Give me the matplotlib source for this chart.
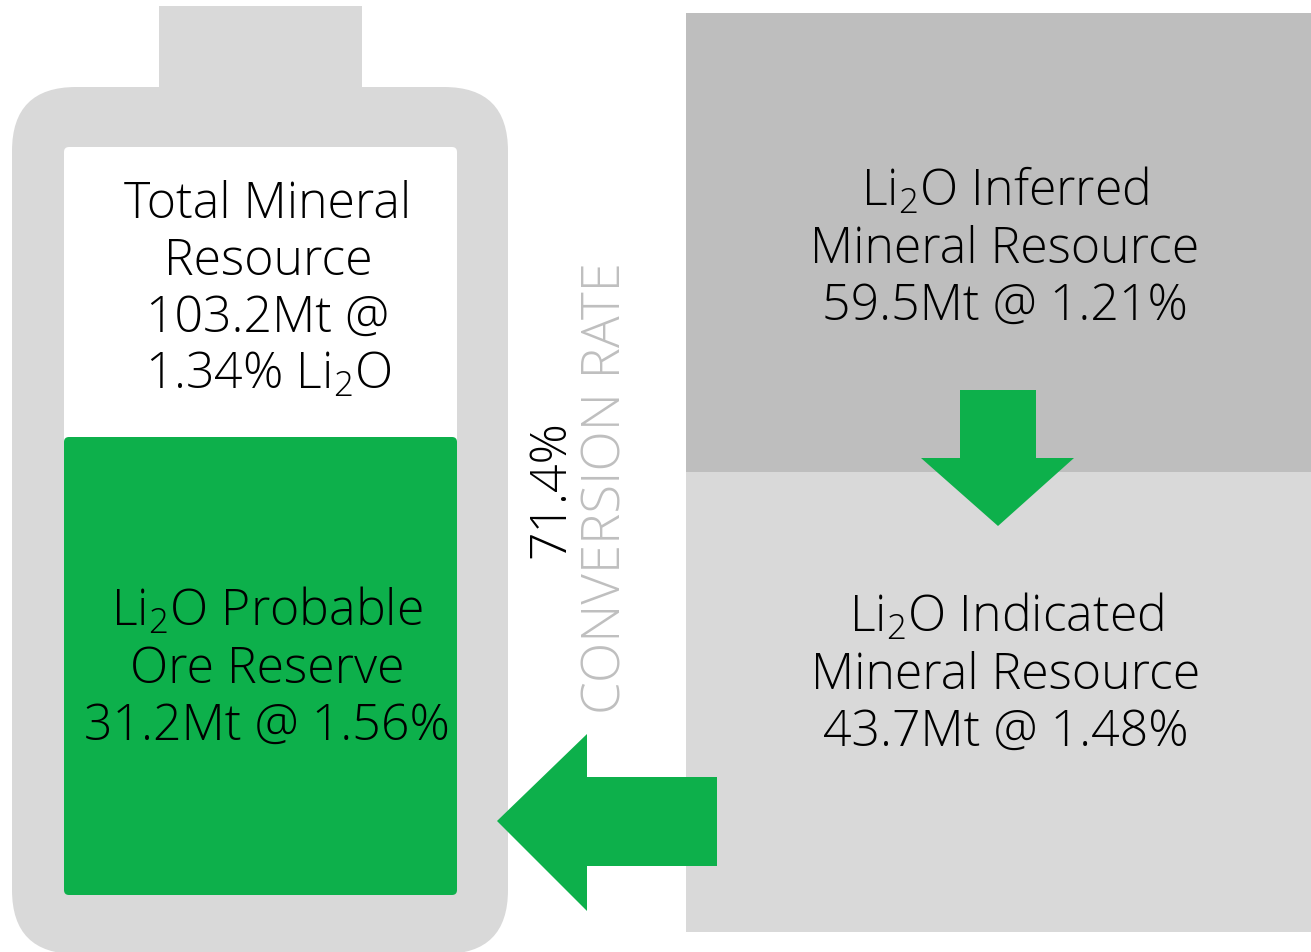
import matplotlib.pyplot as plt
from matplotlib.patches import FancyBboxPatch, Rectangle, Polygon

# resource figures (tonnes in Mt, grade in % Li2O)
total_mt, total_grade = 103.2, 1.34
probable_mt, probable_grade = 31.2, 1.56
inferred_mt, inferred_grade = 59.5, 1.21
indicated_mt, indicated_grade = 43.7, 1.48
conversion_rate = 71.4

GREEN = '#0db04b'
LIGHT = '#d9d9d9'
DARK = '#bebebe'
LI2O = 'Li$_2$O'

plt.rcParams['font.family'] = ['Open Sans', 'DejaVu Sans']
plt.rcParams['font.weight'] = 'light'
plt.rcParams['mathtext.default'] = 'regular'

W, H = 1311, 953
fig = plt.figure(figsize=(W / 100, H / 100), dpi=100)
ax = fig.add_axes([0, 0, 1, 1])
ax.set_xlim(0, W)
ax.set_ylim(H, 0)
ax.axis('off')

# battery shape
ax.add_patch(Rectangle((159, 7), 203, 90, color=LIGHT, lw=0))
ax.add_patch(FancyBboxPatch((12, 88), 496, 867, boxstyle='round,pad=0,rounding_size=64',
                            color=LIGHT, lw=0))
ax.add_patch(FancyBboxPatch((64, 148), 393, 300, boxstyle='round,pad=0,rounding_size=5',
                            color='white', lw=0))
ax.add_patch(FancyBboxPatch((64, 438), 393, 458, boxstyle='round,pad=0,rounding_size=5',
                            color=GREEN, lw=0))

# right hand resource panels
ax.add_patch(Rectangle((686, 14), 625, 459, color=DARK, lw=0))
ax.add_patch(Rectangle((686, 473), 625, 460, color=LIGHT, lw=0))

# arrows
ax.add_patch(Polygon([(960, 391), (1036, 391), (1036, 459), (1074, 459), (998, 527),
                      (921, 459), (960, 459)], closed=True, color=GREEN, lw=0))
ax.add_patch(Polygon([(717, 778), (717, 867), (587, 867), (587, 912), (497, 822),
                      (587, 735), (587, 778)], closed=True, color=GREEN, lw=0))

FS = 36


def block(x, y0, lines, color='black', step=57):
    for i, line in enumerate(lines):
        ax.text(x, y0 + i * step, line, ha='center', va='baseline', fontsize=FS, color=color)


block(268, 218, ['Total Mineral', 'Resource', f'{total_mt}Mt @', f'{total_grade}% {LI2O}'])
block(267, 626, [f'{LI2O} Probable', 'Ore Reserve', f'{probable_mt}Mt @ {probable_grade}%'])
block(1005, 206, [f'{LI2O} Inferred', 'Mineral Resource', f'{inferred_mt}Mt @ {inferred_grade}%'])
block(1006, 632, [f'{LI2O} Indicated', 'Mineral Resource', f'{indicated_mt}Mt @ {indicated_grade}%'])

ax.text(551, 489, f'{conversion_rate}%', rotation=90, ha='center', va='center',
        fontsize=FS, color='black')
ax.text(607, 488, 'CONVERSION RATE', rotation=90, ha='center', va='center',
        fontsize=38, color='#bfbfbf')

fig.savefig('out.png', dpi=100)
